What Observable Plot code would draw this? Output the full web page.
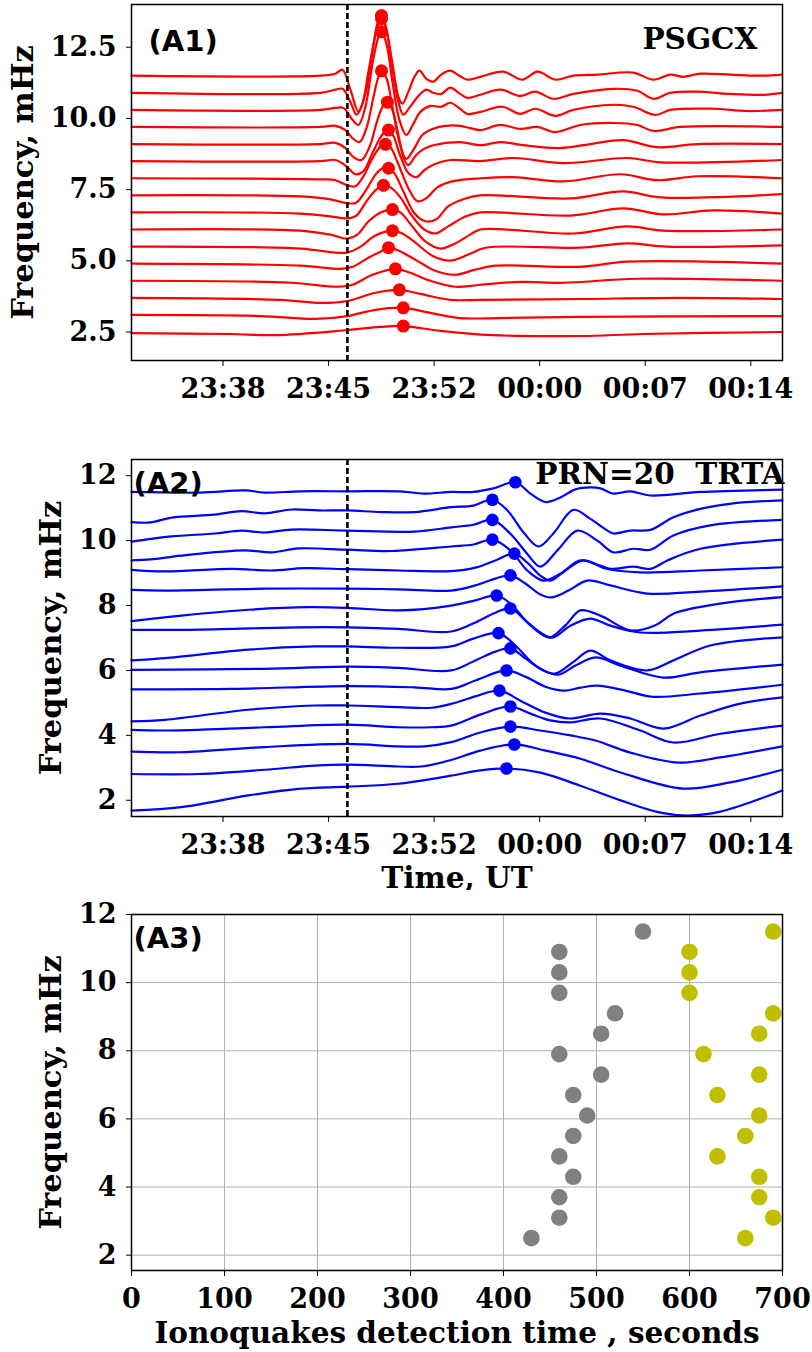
<!DOCTYPE html>
<html><head><meta charset="utf-8">
<script src="https://cdn.jsdelivr.net/npm/d3@7"></script>
<script src="https://cdn.jsdelivr.net/npm/@observablehq/plot@0.6"></script>
<style>
html,body{margin:0;padding:0;background:#fff;}
#root{position:relative;width:812px;height:1352px;overflow:hidden;background:#fff;}
.panel{position:absolute;left:0;}
</style></head><body><div id="root"></div>
<script>
// ---------- shared data ----------
const freqs = [2.5, 3.1, 3.7, 4.3, 4.9, 5.5, 6.1, 6.7, 7.3, 7.9, 8.5, 9.1, 9.7, 10.3, 10.9, 11.5];
const timeTicks = [-22.5, -15, -7.5, 0, 7.5, 15];           // minutes from 00:00 UT
const timeTickLabels = ["23:38", "23:45", "23:52", "00:00", "00:07", "00:14"];
const eventTime = [-13.66];                                   // dashed line (minutes)

// ---------- panel A1 (PSGCX): [minute, offset mHz] per trace, low -> high frequency ----------
const a1Traces = [
  [[-29,-0.04],[-22,-0.07],[-18.8,-0.11],[-13.66,0.07],[-11.31,0.18],[-9.69,0.21],[-7.06,0.04],[-3.36,-0.11],[2.89,-0.14],[7.29,-0.07],[17.24,0]],
  [[-29,0],[-19.84,-0.04],[-15.94,-0.14],[-13.66,-0.04],[-11.67,0.18],[-9.69,0.25],[-7.77,0.07],[-5.65,-0.11],[-2.79,-0.11],[2.89,-0.07],[17.24,-0.04]],
  [[-29,0],[-18.4,-0.07],[-15.5,-0.18],[-13.66,-0.11],[-11.67,0.18],[-9.97,0.28],[-8.48,0.14],[-6.36,-0.07],[-4.22,-0.07],[2.89,-0.04],[10,0],[17.24,-0.04]],
  [[-29,0],[-17.7,-0.07],[-14.37,-0.21],[-13.3,-0.14],[-11.88,0.21],[-10.25,0.42],[-9.19,0.28],[-7.77,0],[-6,-0.21],[-4.22,-0.14],[-1.37,-0.04],[1.68,-0.07],[6.94,0.07],[17.24,0]],
  [[-29,0],[-17,-0.07],[-14.15,-0.18],[-13.3,-0.11],[-12.17,0.21],[-11.31,0.42],[-10.74,0.56],[-10.04,0.46],[-8.83,0.14],[-7.42,-0.25],[-6,-0.39],[-4.58,-0.21],[-3.15,-0.07],[2.89,-0.11],[6.23,0.07],[17.24,0]],
  [[-29,0],[-17,-0.07],[-14.51,-0.21],[-13.66,-0.21],[-12.73,0],[-11.67,0.39],[-10.46,0.56],[-9.76,0.46],[-8.83,0.14],[-7.63,-0.32],[-6.36,-0.49],[-5.07,-0.28],[-3.86,-0.04],[2.89,-0.04],[6.23,0.11],[9.07,0],[17.24,0.04]],
  [[-29,0],[-17,-0.04],[-14.87,-0.18],[-13.66,-0.32],[-12.95,-0.18],[-12.17,0.28],[-11.31,0.6],[-10.46,0.7],[-9.9,0.6],[-9.05,0.11],[-8.12,-0.42],[-7.06,-0.67],[-6,-0.49],[-4.94,-0.18],[-4.22,0],[2.39,-0.14],[6.23,0.11],[8.78,-0.04],[17.24,0]],
  [[-29,0],[-17,-0.04],[-14.87,-0.14],[-13.66,-0.21],[-13.02,-0.11],[-12.31,0.39],[-11.6,0.81],[-11.1,0.95],[-10.6,0.88],[-9.9,0.53],[-9.05,-0.14],[-8.2,-0.6],[-7.42,-0.74],[-6.5,-0.49],[-5.28,-0.14],[-4.22,0],[2.18,-0.11],[5.94,0.14],[8.78,-0.07],[12.34,0.07],[17.24,-0.04]],
  [[-29,0],[-17,-0.04],[-14.87,-0.14],[-13.66,-0.28],[-13.02,-0.25],[-12.31,0.21],[-11.6,0.77],[-11.03,0.98],[-10.74,0.95],[-10.32,0.77],[-9.69,0.14],[-8.9,-0.63],[-8.12,-0.91],[-7.34,-0.84],[-6.5,-0.39],[-5.28,-0.11],[-4.22,0],[2.18,-0.11],[5.94,0.14],[8.57,-0.07],[17.24,0.04]],
  [[-29,0],[-15.58,-0.04],[-14.51,-0.07],[-13.66,-0.25],[-13.09,-0.28],[-12.52,0.07],[-11.88,0.7],[-11.31,1.12],[-10.96,1.19],[-10.6,1.09],[-10.04,0.49],[-9.33,-0.35],[-8.69,-0.81],[-8.05,-0.7],[-7.27,-0.32],[-6.22,-0.11],[-4.22,0],[-1.87,0.04],[1.68,-0.11],[5.73,0.14],[8.36,-0.07],[11.2,0.07],[17.24,0]],
  [[-29,0],[-15.58,0],[-14.51,0.04],[-13.73,-0.18],[-13.09,-0.46],[-12.52,-0.35],[-11.95,0.21],[-11.39,0.77],[-11.03,1.02],[-10.74,1.09],[-10.39,0.88],[-9.9,0.18],[-9.33,-0.42],[-8.76,-0.56],[-8.2,-0.32],[-7.48,-0.11],[-6.36,0.04],[-4.22,0],[-1.87,0.11],[1.68,-0.07],[6.23,0.11],[8.57,-0.04],[17.24,0.04]],
  [[-29,0],[-15.58,0],[-14.51,0.04],[-13.8,-0.14],[-13.23,-0.46],[-12.66,-0.56],[-12.1,-0.11],[-11.53,0.84],[-11.1,1.37],[-10.82,1.47],[-10.46,1.19],[-10.04,0.32],[-9.62,-0.56],[-9.33,-0.74],[-8.83,-0.42],[-8.26,-0.18],[-7.56,-0.04],[-5.65,0.07],[-4.22,-0.04],[-2.79,0.07],[-1.16,-0.04],[1.47,-0.14],[3.6,0],[5.94,0.14],[8.36,-0.11],[11.2,0],[17.24,0]],
  [[-29,0],[-15.58,0],[-14.51,0.04],[-13.8,-0.11],[-13.3,-0.39],[-12.8,-0.53],[-12.31,-0.04],[-11.81,1.05],[-11.46,1.76],[-11.24,1.97],[-10.89,1.72],[-10.46,0.7],[-9.97,-0.53],[-9.48,-1.12],[-8.9,-0.74],[-8.34,-0.28],[-7.63,-0.07],[-6.71,0.04],[-5.65,0.04],[-4.94,-0.04],[-4.22,-0.11],[-2.79,0.07],[-1.37,-0.07],[-0.16,0],[1.12,-0.18],[2.89,0.07],[5.23,0.14],[6.94,0.07],[8.08,-0.14],[10,0],[17.24,0]],
  [[-29,0],[-15.58,0],[-14.51,0.07],[-13.94,0.07],[-13.3,-0.35],[-12.88,-0.53],[-12.38,0.11],[-11.88,1.62],[-11.46,2.56],[-11.24,2.74],[-10.89,2.32],[-10.46,0.98],[-9.97,-0.35],[-9.48,-0.88],[-8.98,-0.49],[-8.48,-0.07],[-7.77,0.14],[-7,0.11],[-6.36,0.25],[-5.65,0.04],[-5.15,-0.14],[-4.22,-0.07],[-2.65,0.11],[-1.37,-0.14],[-0.31,0.04],[1.12,-0.21],[2.39,0],[5.23,0.18],[6.65,0.11],[8.22,-0.18],[9.28,0],[12.34,0.04],[14.75,-0.04],[17.24,0]],
  [[-29,0],[-15.58,0],[-14.51,0.11],[-14.01,0.14],[-13.45,-0.32],[-13.02,-0.77],[-12.6,-0.39],[-12.17,0.74],[-11.74,1.86],[-11.39,2.49],[-11.17,2.63],[-10.89,2.21],[-10.46,0.81],[-10.04,-0.32],[-9.69,-0.77],[-9.26,-0.53],[-8.62,-0.11],[-8.05,0.11],[-7.56,0],[-7,-0.04],[-6.36,0.18],[-5.65,-0.04],[-5.15,-0.18],[-4.22,-0.07],[-2.79,0.11],[-1.37,-0.11],[-0.31,0.04],[0.97,-0.21],[2.39,-0.04],[5.23,0.14],[6.94,0.07],[8.08,-0.21],[9.28,0],[11.2,0.04],[13.54,-0.04],[15.88,-0.07],[17.24,0]],
  [[-29,0],[-15.58,0],[-14.51,0.07],[-14.01,0.21],[-13.45,-0.49],[-12.88,-1.26],[-12.38,-0.63],[-11.88,0.84],[-11.53,1.83],[-11.24,2.11],[-10.89,1.62],[-10.46,0.42],[-10.04,-0.74],[-9.76,-0.98],[-9.33,-0.56],[-8.9,-0.04],[-8.54,0.18],[-8.05,-0.11],[-7.56,-0.21],[-7,0.04],[-6.36,0.18],[-5.72,0],[-5.15,-0.14],[-4.22,-0.04],[-2.58,0.14],[-1.23,-0.14],[-0.16,0.14],[1.12,-0.14],[2.39,0],[4.1,0.04],[6.65,0.11],[8.08,-0.14],[9.28,0.04],[10.2,-0.04],[11.41,0.07],[13.54,0.04],[15.46,0],[17.24,0.04]]
];
const a1Picks = [[-9.69,0.21],[-9.69,0.25],[-9.97,0.28],[-10.25,0.42],[-10.74,0.56],[-10.46,0.56],[-10.46,0.7],[-11.1,0.95],[-10.74,0.95],[-10.96,1.19],[-10.74,1.09],[-10.82,1.47],[-11.24,1.97],[-11.24,2.74],[-11.24,2.6],[-11.24,2.11]];

// ---------- panel A2 (PRN=20 TRTA) ----------
const a2Traces = [
  [[-29,-0.82],[-25.45,-0.71],[-20.7,-0.35],[-17.13,-0.15],[-13.66,-0.08],[-10.04,0.01],[-6.29,0.26],[-4.22,0.42],[-2.36,0.48],[0.05,0.35],[2.89,-0.05],[5.8,-0.51],[8.57,-0.88],[10.56,-0.97],[12.83,-0.85],[17.24,-0.2]],
  [[-29,-0.29],[-24.22,-0.29],[-19.55,-0.16],[-16,-0.03],[-13.66,0],[-10.04,-0.06],[-8.41,-0.06],[-6.29,0.14],[-4.22,0.43],[-1.8,0.62],[0.41,0.43],[2.89,0.18],[5.8,-0.25],[10.2,-0.74],[13.54,-0.55],[17.24,-0.16]],
  [[-29,-0.2],[-25.45,-0.22],[-19.55,-0.06],[-13.66,0.04],[-10.04,-0.04],[-8.19,-0.04],[-6.29,0.09],[-4.22,0.39],[-2.08,0.57],[0.05,0.45],[2.18,0.3],[3.96,0.14],[6.44,-0.23],[9.85,-0.54],[12.83,-0.38],[17.24,-0.04]],
  [[-29,-0.13],[-26.63,-0.15],[-19.55,-0.05],[-13.66,0.03],[-10.04,-0.05],[-7.69,-0.05],[-6.29,0],[-4.22,0.34],[-2.08,0.59],[-0.66,0.37],[0.76,0.16],[2.18,0.1],[4.31,0.22],[7.15,-0.15],[9.5,-0.52],[12.83,-0.25],[17.24,0]],
  [[-29,-0.47],[-26.63,-0.42],[-20.7,-0.11],[-16,0.02],[-13.66,0.02],[-10.04,-0.03],[-7.69,-0.05],[-6.29,0.07],[-4.57,0.3],[-2.86,0.48],[-1.37,0.17],[0.41,-0.2],[2.11,-0.38],[4.31,-0.23],[6.44,-0.38],[8.78,-0.69],[11.41,-0.29],[14.25,0.08],[17.24,0.27]],
  [[-29,-0.08],[-21.87,-0.07],[-13.66,0.02],[-8.9,-0.02],[-6.29,-0.07],[-4.57,0.19],[-2.36,0.5],[-1.02,0.31],[0.41,0],[1.76,-0.12],[2.89,-0.03],[4.1,0.03],[6.08,-0.12],[8,-0.31],[11.41,-0.21],[17.24,0.06]],
  [[-29,-0.08],[-19.55,-0.05],[-13.66,0.02],[-10.04,-0.02],[-6.29,-0.1],[-4.57,0.21],[-3.15,0.48],[-2.08,0.58],[-1.02,0.27],[0.26,-0.1],[1.33,-0.23],[2.54,0.05],[3.96,0.3],[5.73,0.05],[8.78,-0.32],[11.41,-0.16],[17.24,0.08]],
  [[-29,-0.39],[-26.63,-0.32],[-20.7,-0.06],[-16,0.04],[-13.66,0.04],[-10.04,0],[-6.29,0.04],[-4.71,0.28],[-2.93,0.45],[-1.73,0.07],[-0.3,-0.55],[1.05,-0.8],[2.32,-0.46],[3.6,-0.09],[5.02,-0.39],[7.65,-0.7],[9.5,-0.39],[12.12,0.07],[17.24,0.32]],
  [[-29,-0.05],[-24.1,-0.04],[-17.13,0.03],[-13.66,0.03],[-10.04,-0.02],[-6.29,-0.1],[-4.57,0.18],[-3.15,0.48],[-2.08,0.61],[-1.02,0.24],[0.05,-0.13],[0.9,-0.29],[2.18,0.08],[3.6,0.3],[5.02,0.08],[7.15,-0.13],[11.41,-0.07],[17.24,0.11]],
  [[-29,-0.38],[-25.45,-0.21],[-20.7,-0.03],[-16.41,0.05],[-13.66,0.03],[-10.04,-0.05],[-6.29,0.1],[-4.57,0.26],[-3.06,0.41],[-2.08,0.16],[-0.66,-0.51],[0.69,-0.88],[1.83,-0.51],[2.89,-0.05],[4.31,-0.21],[6.51,-0.67],[8.22,-0.51],[9.5,-0.15],[12.83,0.16],[17.24,0.36]],
  [[-29,-0.02],[-26.63,-0.04],[-19.55,0.02],[-13.66,0.02],[-10.04,0],[-6.29,-0.04],[-4.57,0.12],[-3.15,0.33],[-2.08,0.43],[-1.02,0.18],[0.05,-0.16],[0.83,-0.25],[2.04,-0.04],[3.39,0.27],[5.02,0.12],[7.63,-0.13],[11.41,-0.07],[17.24,0.09]],
  [[-29,0],[-26.63,-0.05],[-21.87,0.03],[-19.05,-0.02],[-16.7,0.05],[-13.66,0.02],[-10.04,-0.02],[-6.29,-0.04],[-4.57,0.07],[-3.15,0.29],[-1.8,0.5],[-0.88,0.22],[0.05,-0.18],[0.76,-0.33],[1.83,-0.02],[3.1,0.29],[4.67,0.04],[7.15,-0.08],[11.41,-0.02],[17.24,0.08]],
  [[-29,-0.31],[-27.65,-0.28],[-25.45,-0.16],[-20.95,0],[-19.05,-0.06],[-17.13,0.06],[-13.66,0.02],[-10.53,-0.02],[-6.29,0.12],[-4.71,0.18],[-3.36,0.33],[-2.08,0],[-0.88,-0.62],[0.26,-0.93],[1.47,-0.72],[2.89,-0.31],[4.31,-0.47],[5.02,-0.57],[6.65,-0.5],[7.86,-0.57],[9.07,-0.31],[11.41,0.05],[17.24,0.33]],
  [[-29,-0.33],[-26.16,-0.17],[-23.1,-0.08],[-21.19,0.01],[-19.55,-0.05],[-17.63,0.04],[-13.66,0.01],[-8.9,-0.02],[-6.29,0.11],[-4.71,0.19],[-3.36,0.34],[-2.08,-0.09],[-0.88,-0.71],[0.05,-1.1],[1.26,-0.6],[2.68,0.01],[4.1,-0.3],[5.23,-0.66],[6.65,-0.55],[7.86,-0.58],[9.5,-0.14],[12.12,0.17],[17.24,0.34]],
  [[-29,-0.33],[-27.65,-0.34],[-26.16,-0.19],[-23.1,-0.1],[-21.19,0.01],[-19.55,-0.06],[-17.63,0.06],[-15.72,0.03],[-13.66,0.03],[-11.24,-0.02],[-8.9,-0.02],[-6.29,0.13],[-4.71,0.18],[-3.36,0.36],[-2.29,0.03],[-1.16,-0.64],[-0.09,-1.08],[0.97,-0.68],[2.39,0.05],[3.6,-0.23],[4.81,-0.59],[5.23,-0.68],[6.44,-0.59],[7.86,-0.57],[9.5,-0.18],[11.41,0.08],[13.76,0.25],[17.24,0.34]],
  [[-29,0],[-24.1,-0.02],[-20.95,0.05],[-19.55,-0.02],[-17,0.02],[-13.66,0.02],[-9.9,0.02],[-8.2,-0.05],[-6.29,0],[-4.71,0],[-3.29,0.11],[-1.73,0.3],[-0.66,-0.05],[0.41,-0.31],[1.47,-0.17],[2.54,0.08],[3.6,0.14],[4.31,0.11],[5.23,-0.05],[6.44,0.02],[7.86,-0.11],[11.41,0],[17.24,0.07]]
];
const a2Picks = [[-2.36,0.48],[-1.8,0.62],[-2.08,0.57],[-2.08,0.59],[-2.86,0.48],[-2.36,0.5],[-2.08,0.58],[-2.93,0.45],[-2.08,0.61],[-3.06,0.41],[-2.08,0.43],[-1.8,0.5],[-3.36,0.33],[-3.36,0.34],[-3.36,0.36],[-1.73,0.3]];

// ---------- panel A3: detection time (s) per frequency ----------
const a3Freqs = freqs;
const a3GraySeconds = [430, 460, 460, 475, 460, 475, 490, 475, 505, 460, 505, 520, 460, 460, 460, 550];
const a3YellowSeconds = [660, 690, 675, 675, 630, 660, 675, 630, 675, 615, 675, 690, 600, 600, 600, 690];
const a3XTicks = [0, 100, 200, 300, 400, 500, 600, 700];
const a3YTicks = [2, 4, 6, 8, 10, 12];

// ---------- helpers ----------
const SERIF = "'DejaVu Serif', serif";
const SANS = "'DejaVu Sans', sans-serif";
const LABEL = 29.5;
function traceRows(traces) {
  const out = [];
  traces.forEach((tr, i) => tr.forEach(([t, v]) => out.push({f: freqs[i], t, y: freqs[i] + v})));
  return out;
}
function pickRows(picks) { return picks.map(([t, v], i) => ({t, y: freqs[i] + v})); }
const timeFmt = d => timeTickLabels[timeTicks.indexOf(d)];
const baseStyle = {fontFamily: SERIF, fontWeight: "bold", fontSize: "27px", color: "black", background: "white", overflow: "visible"};

function mount(svg, top) {
  const div = document.createElement("div");
  div.className = "panel"; div.style.top = top + "px";
  div.appendChild(svg);
  document.getElementById("root").appendChild(div);
}

// ---------- A1 ----------
mount(Plot.plot({
  width: 812, height: 410,
  marginTop: 4, marginBottom: 50, marginLeft: 131, marginRight: 30,
  x: {domain: [-29, 17.25]},
  y: {domain: [1.5, 14]},
  style: baseStyle,
  marks: [
    Plot.line(traceRows(a1Traces), {x: "t", y: "y", z: "f", stroke: "#ff0000", strokeWidth: 2.2, curve: "catmull-rom"}),
    Plot.ruleX(eventTime, {stroke: "black", strokeWidth: 2.6, strokeDasharray: "6,3"}),
    Plot.dot(pickRows(a1Picks), {x: "t", y: "y", r: 6.5, fill: "#ff0000", stroke: "none"}),
    Plot.frame({stroke: "black", strokeWidth: 1.5}),
    Plot.axisX({ticks: timeTicks, tickFormat: timeFmt, tickSize: 6, tickPadding: 12, label: null, fontSize: 27}),
    Plot.axisY({ticks: [2.5, 5, 7.5, 10, 12.5], tickFormat: d => d.toFixed(1), tickSize: 5, tickPadding: 10, label: null, fontSize: 27}),
    Plot.text(["Frequency, mHz"], {frameAnchor: "left", dx: -108, rotate: -90, textAnchor: "middle", lineAnchor: "middle", fontSize: 30.5, fontWeight: "bold", fontFamily: SERIF}),
    Plot.text(["(A1)"], {frameAnchor: "top-left", dx: 17, dy: 37, textAnchor: "start", lineAnchor: "middle", fontSize: 29, fontWeight: "bold", fontFamily: SANS}),
    Plot.text(["PSGCX"], {frameAnchor: "top-right", dx: -25, dy: 35, textAnchor: "end", lineAnchor: "middle", fontSize: LABEL, fontWeight: "bold", fontFamily: SERIF})
  ]
}), 0);

// ---------- A2 ----------
mount(Plot.plot({
  width: 812, height: 480,
  marginTop: 49, marginBottom: 74, marginLeft: 131, marginRight: 30,
  x: {domain: [-29, 17.25]},
  y: {domain: [1.5, 12.5]},
  style: baseStyle,
  marks: [
    Plot.line(traceRows(a2Traces), {x: "t", y: "y", z: "f", stroke: "#0000ff", strokeWidth: 2.2, curve: "catmull-rom"}),
    Plot.ruleX(eventTime, {stroke: "black", strokeWidth: 2.6, strokeDasharray: "6,3"}),
    Plot.dot(pickRows(a2Picks), {x: "t", y: "y", r: 6.3, fill: "#0000ff", stroke: "none"}),
    Plot.frame({stroke: "black", strokeWidth: 1.5}),
    Plot.axisX({ticks: timeTicks, tickFormat: timeFmt, tickSize: 6, tickPadding: 12, label: null, fontSize: 27}),
    Plot.axisY({ticks: [2, 4, 6, 8, 10, 12], tickSize: 5, tickPadding: 10, label: null, fontSize: 27}),
    Plot.text(["Time, UT"], {frameAnchor: "bottom", dy: 62, textAnchor: "middle", lineAnchor: "middle", fontSize: LABEL, fontWeight: "bold", fontFamily: SERIF}),
    Plot.text(["Frequency, mHz"], {frameAnchor: "left", dx: -80, rotate: -90, textAnchor: "middle", lineAnchor: "middle", fontSize: 30.5, fontWeight: "bold", fontFamily: SERIF}),
    Plot.text(["(A2)"], {frameAnchor: "top-left", dx: 2, dy: 24, textAnchor: "start", lineAnchor: "middle", fontSize: 29, fontWeight: "bold", fontFamily: SANS}),
    Plot.text(["PRN=20\u00a0\u00a0TRTA"], {frameAnchor: "top-right", dx: 2, dy: 15, textAnchor: "end", lineAnchor: "middle", fontSize: 29.5, fontWeight: "bold", fontFamily: SERIF})
  ]
}), 410);

// ---------- A3 ----------
const a3Gray = a3Freqs.map((f, i) => ({s: a3GraySeconds[i], f}));
const a3Yellow = a3Freqs.map((f, i) => ({s: a3YellowSeconds[i], f}));
mount(Plot.plot({
  width: 812, height: 462,
  marginTop: 24, marginBottom: 82, marginLeft: 131, marginRight: 30,
  x: {domain: [0, 700]},
  y: {domain: [1.55, 12]},
  style: baseStyle,
  marks: [
    Plot.gridX({ticks: a3XTicks, stroke: "#b0b0b0", strokeOpacity: 1, strokeWidth: 1}),
    Plot.gridY({ticks: a3YTicks, stroke: "#b0b0b0", strokeOpacity: 1, strokeWidth: 1}),
    Plot.dot(a3Gray, {x: "s", y: "f", r: 8.3, fill: "#808080", stroke: "none"}),
    Plot.dot(a3Yellow, {x: "s", y: "f", r: 8.3, fill: "#bfbf00", stroke: "none"}),
    Plot.frame({stroke: "black", strokeWidth: 1.5}),
    Plot.axisX({ticks: a3XTicks, tickSize: 6, tickPadding: 12, label: null, fontSize: 27}),
    Plot.axisY({ticks: a3YTicks, tickSize: 5, tickPadding: 10, label: null, fontSize: 27}),
    Plot.text(["Ionoquakes detection time , seconds"], {frameAnchor: "bottom", dy: 63, textAnchor: "middle", lineAnchor: "middle", fontSize: LABEL, fontWeight: "bold", fontFamily: SERIF}),
    Plot.text(["Frequency, mHz"], {frameAnchor: "left", dx: -80, rotate: -90, textAnchor: "middle", lineAnchor: "middle", fontSize: 30.5, fontWeight: "bold", fontFamily: SERIF}),
    Plot.text(["(A3)"], {frameAnchor: "top-left", dx: 2, dy: 24, textAnchor: "start", lineAnchor: "middle", fontSize: 29, fontWeight: "bold", fontFamily: SANS})
  ]
}), 890);
</script></body></html>
